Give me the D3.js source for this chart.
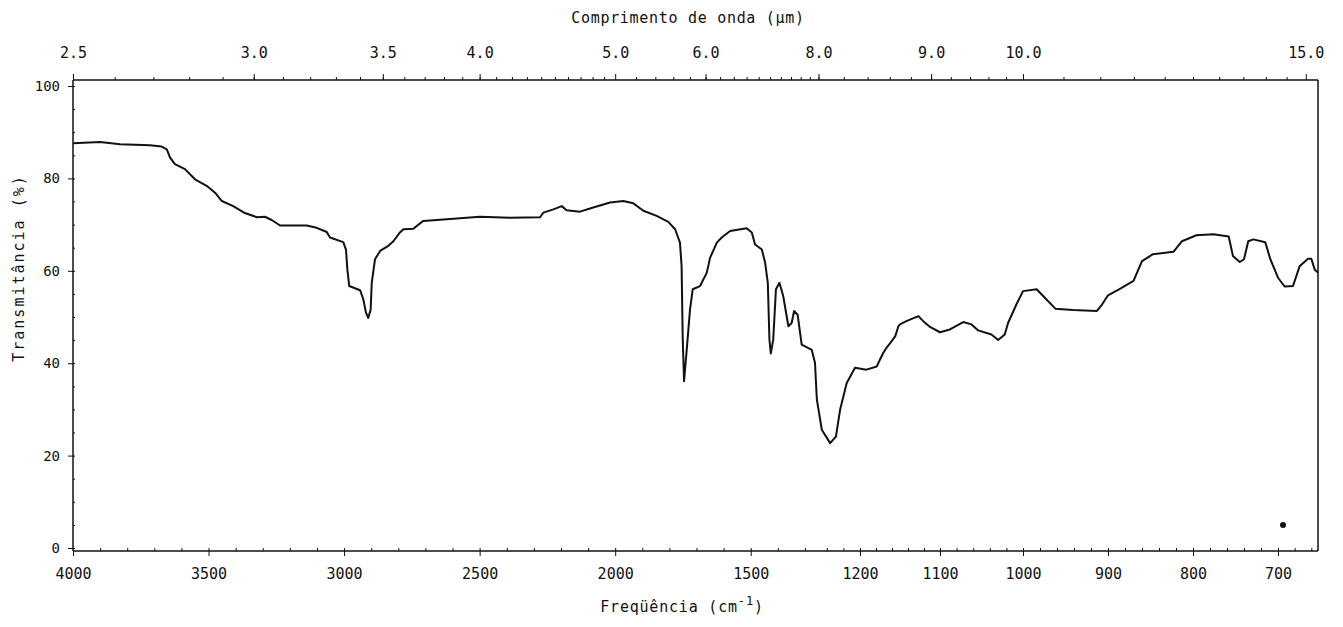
<!DOCTYPE html>
<html>
<head>
<meta charset="utf-8">
<script src="https://cdn.jsdelivr.net/npm/d3@7"></script>
<style>
  body { margin: 0; background: #fff; }
  text { font-family: "DejaVu Sans Mono", monospace; fill: #111; }
  .axis path, .axis line { stroke: #111; }
</style>
</head>
<body>
<div id="chart"></div>
<script>
const WIDTH = 1343;
const HEIGHT = 627;
const BOX = { LEFT: 73, RIGHT: 1318, TOP: 80, BOTTOM: 551 };

// spectrum (cm-1, %T)
const wavenumber = [4000, 3900, 3827, 3716, 3673, 3654, 3642, 3624, 3587, 3550, 3507, 3476, 3451, 3409, 3366, 3322, 3292, 3267, 3236, 3138, 3101, 3064, 3052, 3003, 2993, 2988, 2981, 2941, 2929, 2919, 2911, 2902, 2898, 2886, 2867, 2837, 2818, 2794, 2781, 2745, 2708, 2658, 2572, 2499, 2388, 2277, 2265, 2228, 2197, 2179, 2130, 2081, 2019, 1970, 1933, 1896, 1847, 1804, 1779, 1761, 1755, 1751, 1746, 1736, 1724, 1714, 1687, 1662, 1650, 1625, 1607, 1576, 1515, 1496, 1484, 1459, 1447, 1437, 1431, 1426, 1417, 1407, 1394, 1380, 1361, 1349, 1340, 1327, 1312, 1275, 1263, 1256, 1246, 1236, 1229, 1224, 1216, 1206, 1192, 1179, 1175, 1171, 1167, 1162, 1156, 1152, 1150, 1142, 1127, 1121, 1112, 1100, 1088, 1072, 1062, 1054, 1038, 1030, 1022, 1018, 1008, 1000, 984, 976, 962, 941, 913, 907, 900, 886, 870, 860, 847, 823, 813, 796, 776, 758, 753, 745, 740, 735, 729, 715, 709, 700, 692, 682, 674, 664, 660, 656, 652];
const transmittance = [87.6, 87.9, 87.4, 87.2, 86.9, 86.3, 84.5, 83.1, 82.0, 79.8, 78.4, 76.9, 75.1, 74.0, 72.5, 71.6, 71.7, 71.0, 69.8, 69.8, 69.3, 68.4, 67.2, 66.2, 64.6, 60.3, 56.7, 55.8, 53.8, 50.9, 49.8, 51.6, 57.4, 62.5, 64.3, 65.4, 66.4, 68.3, 69.0, 69.1, 70.8, 71.0, 71.4, 71.7, 71.5, 71.6, 72.6, 73.3, 74.0, 73.1, 72.8, 73.7, 74.8, 75.1, 74.6, 73.0, 71.9, 70.6, 69.0, 66.1, 61.0, 45.8, 36.1, 43.0, 51.6, 56.0, 56.7, 59.6, 62.8, 66.1, 67.2, 68.6, 69.2, 68.3, 65.7, 64.6, 61.8, 57.4, 45.1, 42.1, 45.1, 56.0, 57.4, 54.5, 48.0, 48.7, 51.3, 50.5, 44.0, 42.9, 40.1, 32.1, 25.6, 22.7, 24.1, 29.9, 35.7, 39.0, 38.6, 39.3, 40.8, 42.2, 43.3, 44.4, 45.8, 48.0, 48.4, 49.1, 50.2, 49.1, 47.8, 46.7, 47.3, 48.9, 48.4, 47.1, 46.2, 45.0, 46.2, 48.7, 52.7, 55.6, 56.0, 54.5, 51.8, 51.5, 51.3, 52.7, 54.7, 56.1, 57.8, 62.1, 63.6, 64.1, 66.4, 67.7, 67.9, 67.4, 63.2, 61.9, 62.5, 66.4, 66.8, 66.2, 62.5, 58.5, 56.6, 56.7, 61.0, 62.6, 62.6, 60.3, 59.6];

// stray marker near the baseline (cm-1, %T)
const markerPoint = [694, 5];

// tick labels
const freqTicks = [4000, 3500, 3000, 2500, 2000, 1500, 1200, 1100, 1000, 900, 800, 700];
const waveTicks = [2.5, 3.0, 3.5, 4.0, 5.0, 6.0, 8.0, 9.0, 10.0, 15.0];
const yTicks = [0, 20, 40, 60, 80, 100];

// the chart paper changes scale below 1250 cm-1 -> polylinear scale
const xBreaks = [4000, 1250, 1200, 1100, 1000, 900, 800, 700, 652];
const xPixels = [BOX.LEFT, 818.5, 860, 940, 1023, 1108, 1193, 1278, BOX.RIGHT];

const x = d3.scaleLinear().domain(xBreaks).range(xPixels);
const y = d3.scaleLinear().domain([0, 100]).range([548, 86]);

const svg = d3.select("#chart")
  .append("svg")
  .attr("width", WIDTH)
  .attr("height", HEIGHT);

svg.append("rect").attr("width", WIDTH).attr("height", HEIGHT).attr("fill", "#fff");

// minor ticks
const minorFreq = d3.range(3900, 1250, -100).concat(d3.range(1240, 655, -20));
const minorWave = d3.range(2.6, 5.0, 0.1).concat(d3.range(5.2, 10, 0.2), d3.range(10.5, 15, 0.5));
const minorY = d3.range(0, 101, 5);

// bottom axis
const xAxis = svg.append("g")
  .attr("class", "axis")
  .attr("transform", `translate(0, ${BOX.BOTTOM})`)
  .call(d3.axisBottom(x).tickValues(freqTicks).tickSize(5).tickSizeOuter(0).tickPadding(12)
    .tickFormat(d3.format("d")));
xAxis.select(".domain").attr("d", `M${BOX.LEFT},0H${BOX.RIGHT}`).style("stroke-width", 1.5);
xAxis.selectAll("text").style("font-size", "15px");

svg.append("g")
  .attr("class", "axis")
  .attr("transform", `translate(0, ${BOX.BOTTOM})`)
  .call(d3.axisBottom(x).tickValues(minorFreq).tickSize(-3).tickFormat(""))
  .call((g) => g.select(".domain").remove());

// top axis (wavelength in um -> cm-1)
const topAxis = svg.append("g")
  .attr("class", "axis")
  .attr("transform", `translate(0, ${BOX.TOP})`)
  .call(d3.axisTop(x).tickValues(waveTicks.map((w) => 10000 / w)).tickSize(6).tickSizeOuter(0)
    .tickPadding(16).tickFormat((d) => (10000 / d).toFixed(1)));
topAxis.select(".domain").attr("d", `M${BOX.LEFT},0H${BOX.RIGHT}`).style("stroke-width", 1.5);
topAxis.selectAll("text").style("font-size", "15px");

svg.append("g")
  .attr("class", "axis")
  .attr("transform", `translate(0, ${BOX.TOP})`)
  .call(d3.axisTop(x).tickValues(minorWave.map((w) => 10000 / w)).tickSize(3).tickFormat(""))
  .call((g) => g.select(".domain").remove());

// left axis
const yAxis = svg.append("g")
  .attr("class", "axis")
  .attr("transform", `translate(${BOX.LEFT}, 0)`)
  .call(d3.axisLeft(y).tickValues(yTicks).tickSize(5).tickSizeOuter(0).tickPadding(8));
yAxis.select(".domain").attr("d", `M0,${BOX.TOP}V${BOX.BOTTOM}`).style("stroke-width", 1.5);
yAxis.selectAll("text").style("font-size", "14px");

svg.append("g")
  .attr("class", "axis")
  .attr("transform", `translate(${BOX.LEFT}, 0)`)
  .call(d3.axisRight(y).tickValues(minorY).tickSize(2).tickFormat(""))
  .call((g) => g.select(".domain").remove());

// right border
svg.append("line")
  .attr("x1", BOX.RIGHT).attr("x2", BOX.RIGHT)
  .attr("y1", BOX.TOP).attr("y2", BOX.BOTTOM)
  .attr("stroke", "#111").attr("stroke-width", 1.5);

// axis titles
svg.append("text")
  .attr("x", 688).attr("y", 23)
  .attr("text-anchor", "middle")
  .style("font-size", "15px")
  .style("letter-spacing", "0.7px")
  .text("Comprimento de onda (\u00b5m)");

const xTitle = svg.append("text")
  .attr("x", 682).attr("y", 612)
  .attr("text-anchor", "middle")
  .style("font-size", "15px")
  .style("letter-spacing", "0.8px");
xTitle.append("tspan").text("Freqüência (cm");
xTitle.append("tspan").attr("dy", -7).style("font-size", "12px").text("-1");
xTitle.append("tspan").attr("dy", 7).text(")");

svg.append("text")
  .attr("transform", "translate(24, 268) rotate(-90)")
  .attr("text-anchor", "middle")
  .style("font-size", "15px")
  .style("letter-spacing", "2px")
  .text("Transmitância (%)");

// spectrum
const spectrum = wavenumber.map((w, i) => ({ w: w, t: transmittance[i] }));
const line = d3.line()
  .x((d) => x(d.w))
  .y((d) => y(d.t));

svg.append("path")
  .attr("fill", "none")
  .attr("stroke", "#111")
  .attr("stroke-width", 2)
  .attr("stroke-linejoin", "round")
  .attr("d", line(spectrum));

svg.append("circle")
  .attr("cx", x(markerPoint[0]))
  .attr("cy", y(markerPoint[1]))
  .attr("r", 3)
  .attr("fill", "#111");
</script>
</body>
</html>
